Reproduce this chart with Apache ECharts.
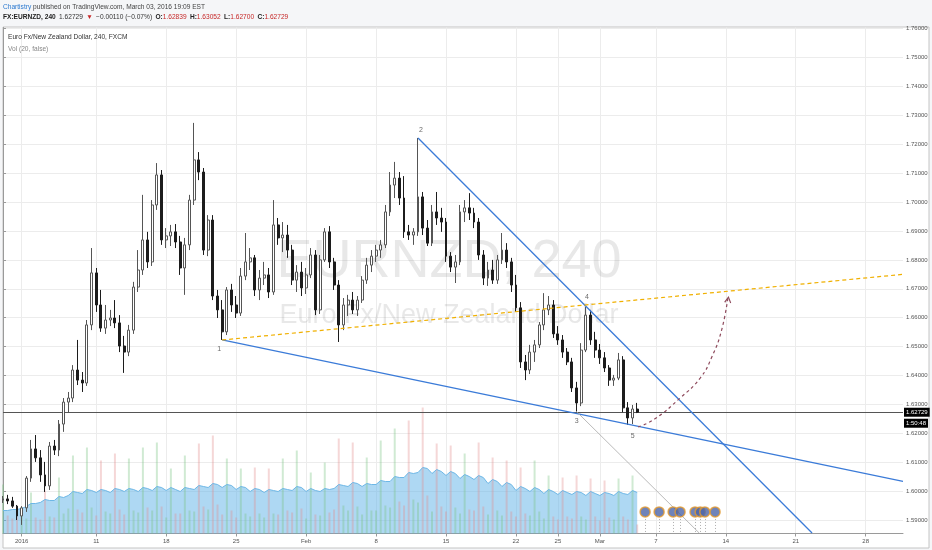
<!DOCTYPE html>
<html><head><meta charset="utf-8">
<script src="https://cdn.jsdelivr.net/npm/echarts@6/dist/echarts.min.js"></script>
<style>html,body{margin:0;padding:0;background:#f5f6f8;}#c{width:932px;height:550px;}</style>
</head><body><div id="c"></div>
<script>
// ---------- DATA ----------
const opens = [1.5969,1.5973,1.5966,1.5948,1.5914,1.5942,1.6045,1.6146,1.6115,1.6056,
1.6018,1.6156,1.6142,1.6232,1.6308,1.6322,1.6419,1.6384,1.6374,1.6575,
1.6755,1.6644,1.6564,1.6592,1.6599,1.6582,1.6502,1.6481,1.6557,1.6706,
1.6765,1.6869,1.6793,1.6990,1.7094,1.6869,1.6883,1.6897,1.6862,1.6772,
1.6852,1.7007,1.7146,1.7104,1.6834,1.6938,1.6675,1.6627,1.6551,1.6696,
1.6644,1.6616,1.6744,1.6793,1.6807,1.6696,1.6737,1.6748,1.6689,1.6921,
1.6876,1.6886,1.6834,1.6730,1.6758,1.6703,1.6748,1.6817,1.6627,1.6800,
1.6897,1.6793,1.6713,1.6575,1.6644,1.6661,1.6627,1.6661,1.6730,1.6782,
1.6813,1.6834,1.6852,1.6966,1.7059,1.7083,1.7014,1.6897,1.6886,1.6897,
1.7018,1.6910,1.6858,1.6966,1.6945,1.6931,1.6813,1.6775,1.6793,1.6966,
1.6980,1.6962,1.6931,1.6817,1.6737,1.6765,1.6730,1.6800,1.6834,1.6793,
1.6713,1.6634,1.6447,1.6419,1.6481,1.6506,1.6575,1.6627,1.6644,1.6544,
1.6523,1.6481,1.6447,1.6357,1.6305,1.6488,1.6609,1.6523,1.6488,1.6461,
1.6426,1.6384,1.6391,1.6454,1.6288,1.6253,1.62839];
const highs = [1.5983,1.5987,1.5980,1.5952,1.5948,1.6052,1.6177,1.6194,1.6142,1.6101,
1.6170,1.6177,1.6246,1.6322,1.6343,1.6436,1.6523,1.6412,1.6592,1.6841,
1.6772,1.6696,1.6644,1.6627,1.6661,1.6609,1.6537,1.6575,1.6724,1.6834,
1.7025,1.6897,1.7007,1.7135,1.7111,1.6910,1.6921,1.6924,1.6883,1.6876,
1.7025,1.7274,1.7173,1.7118,1.6955,1.6955,1.6696,1.6661,1.6706,1.6717,
1.6675,1.6772,1.6893,1.6841,1.6817,1.6765,1.6793,1.6772,1.7007,1.6945,
1.6931,1.6921,1.6852,1.6782,1.6793,1.6772,1.6841,1.6834,1.6817,1.6910,
1.6917,1.6807,1.6730,1.6668,1.6679,1.6689,1.6675,1.6744,1.6807,1.6834,
1.6852,1.6869,1.6990,1.7104,1.7139,1.7104,1.7090,1.6921,1.6910,1.7222,
1.7035,1.6938,1.6990,1.7035,1.6980,1.6945,1.6827,1.6817,1.6990,1.7007,
1.7031,1.6980,1.6945,1.6834,1.6793,1.6800,1.6817,1.6893,1.6858,1.6807,
1.6748,1.6654,1.6471,1.6506,1.6523,1.6585,1.6685,1.6675,1.6661,1.6571,
1.6540,1.6495,1.6461,1.6378,1.6512,1.6637,1.6627,1.6551,1.6509,1.6481,
1.6436,1.6402,1.6478,1.6467,1.6308,1.6298,1.63052];
const lows = [1.5959,1.5955,1.5942,1.5900,1.5883,1.5928,1.6032,1.6101,1.6032,1.5997,
1.6004,1.6125,1.6121,1.6205,1.6273,1.6308,1.6367,1.6343,1.6364,1.6557,
1.6620,1.6551,1.6544,1.6571,1.6564,1.6481,1.6409,1.6467,1.6544,1.6689,
1.6748,1.6772,1.6779,1.6973,1.6852,1.6841,1.6848,1.6841,1.6748,1.6679,
1.6834,1.6990,1.7076,1.6817,1.6813,1.6661,1.6599,1.6523,1.6540,1.6620,
1.6599,1.6606,1.6730,1.6765,1.6675,1.6661,1.6713,1.6668,1.6679,1.6852,
1.6827,1.6807,1.6713,1.6689,1.6675,1.6682,1.6737,1.6609,1.6613,1.6793,
1.6772,1.6696,1.6516,1.6557,1.6606,1.6613,1.6606,1.6651,1.6717,1.6758,
1.6793,1.6807,1.6841,1.6952,1.7014,1.6990,1.6876,1.6869,1.6852,1.6883,
1.6886,1.6848,1.6848,1.6921,1.6897,1.6793,1.6758,1.6720,1.6782,1.6931,
1.6938,1.6910,1.6800,1.6713,1.6710,1.6717,1.6717,1.6786,1.6772,1.6689,
1.6620,1.6426,1.6384,1.6405,1.6447,1.6495,1.6557,1.6609,1.6530,1.6506,
1.6461,1.6436,1.6343,1.6275,1.6294,1.6481,1.6506,1.6461,1.6440,1.6412,
1.6364,1.6364,1.6384,1.6273,1.6229,1.6232,1.62700];
const closes = [1.5973,1.5966,1.5948,1.5914,1.5942,1.6045,1.6146,1.6115,1.6056,1.6018,
1.6156,1.6142,1.6232,1.6308,1.6322,1.6419,1.6384,1.6374,1.6575,1.6755,
1.6644,1.6564,1.6592,1.6599,1.6582,1.6502,1.6481,1.6557,1.6706,1.6765,
1.6869,1.6793,1.6990,1.7094,1.6869,1.6883,1.6897,1.6862,1.6772,1.6852,
1.7007,1.7146,1.7104,1.6834,1.6938,1.6675,1.6627,1.6551,1.6696,1.6644,
1.6616,1.6744,1.6793,1.6807,1.6696,1.6737,1.6748,1.6689,1.6921,1.6876,
1.6886,1.6834,1.6730,1.6758,1.6703,1.6748,1.6817,1.6627,1.6800,1.6897,
1.6793,1.6713,1.6575,1.6644,1.6661,1.6627,1.6661,1.6730,1.6782,1.6813,
1.6834,1.6852,1.6966,1.7059,1.7083,1.7014,1.6897,1.6886,1.6897,1.7018,
1.6910,1.6858,1.6966,1.6945,1.6931,1.6813,1.6775,1.6793,1.6966,1.6980,
1.6962,1.6931,1.6817,1.6737,1.6765,1.6730,1.6800,1.6834,1.6793,1.6713,
1.6634,1.6447,1.6419,1.6481,1.6506,1.6575,1.6627,1.6644,1.6544,1.6523,
1.6481,1.6447,1.6357,1.6305,1.6488,1.6609,1.6523,1.6488,1.6461,1.6426,
1.6384,1.6391,1.6454,1.6288,1.6253,1.6284,1.62729];
const volumes = [4900,1800,1500,1700,2200,
1500,4100,1600, 1400,4300,1700, 1600,5600,2000, 2500,7800,2400, 2100,8600,2600,
1800,7300,2200, 2000,8000,2400, 1900,7500,2300, 2100,8600,2600, 2300,9100,2700,
1600,6500,2000, 2000,7800,2300, 2200,9000,2700, 2400,9800,2900, 1900,7500,2300,
1600,6500,2000, 1700,6600,2000, 1600,6500,2000, 1900,7500,2300, 2100,8300,2500,
1500,6100,1900, 1800,7100,2100, 2400,9500,2800, 2300,9100,2700, 1900,7600,2300,
2300,9300,2800, 2600,10500,3200, 2800,11300,3400, 3100,12600,3800, 2200,9000,2700,
2200,8800,2600, 2000,8000,2400, 2300,9100,2700, 1900,7600,2300, 1800,7300,2200,
1700,6600,2000, 1800,7300,2200, 1500,5800,1700, 1400,5600,1700, 1500,5800,1700,
1400,5500,1700, 1300,5300,1600, 1400,5500,1700, 1400,5800,900];
const volumeMA = [2300,2300,2400,2400,2500,
2700,3000,3000, 3100,3400,3300, 3300,3700,3600, 3800,4200,4100, 4000,4400,4300,
4100,4400,4300, 4100,4500,4400, 4200,4500,4400, 4200,4600,4500, 4300,4700,4600,
4300,4600,4400, 4200,4600,4500, 4400,4800,4700, 4600,5000,4900, 4600,4900,4800,
4400,4700,4600, 4200,4500,4400, 4100,4400,4300, 4200,4500,4400, 4300,4700,4600,
4200,4500,4300, 4200,4500,4400, 4500,4900,4800, 4700,5100,5000, 4700,5000,4900,
4900,5300,5200, 5200,5700,5600, 5600,6100,6000, 6100,6600,6500, 6000,6400,6200,
5800,6200,6000, 5500,5900,5700, 5400,5800,5600, 5000,5400,5200, 4700,5100,4900,
4300,4700,4500, 4200,4600,4400, 4000,4400,4200, 3900,4300,4100, 3900,4200,4100,
3800,4200,4000, 3800,4100,4000, 3800,4200,4000, 3900,4300,4100];

const priceTicks = [1.59,1.60,1.61,1.62,1.63,1.64,1.65,1.66,1.67,1.68,1.69,1.70,1.71,1.72,1.73,1.74,1.75,1.76];
const leadSlots = ['2015-12-30 16:00','2015-12-31 00:00','2015-12-31 08:00','2015-12-31 16:00','2016-01-03 16:00'];
const slotHours = ['00:00','08:00','16:00'];
const tickSlots = ['2016-01-03 16:00','2016-01-11 00:00','2016-01-18 00:00','2016-01-25 00:00','2016-02-01 00:00','2016-02-08 00:00','2016-02-15 00:00','2016-02-22 00:00','2016-02-25 00:00','2016-03-01 00:00','2016-03-07 00:00','2016-03-14 00:00','2016-03-21 00:00','2016-03-28 00:00'];
const tickTexts = ['2016','11','18','25','Feb','8','15','22','25','Mar','7','14','21','28'];

const lastPrice = 1.62729;
const countdown = '1:50:48';
// drawings, in [bar index, price]
const lowerTrend = [[47,1.6523],[193,1.6034]];
const upperTrend = [[89,1.7222],[173.5,1.5855]];
const yellowTrend = [[47,1.6523],[193,1.6750]];
const greyTrend = [[123,1.6275],[149.3,1.5855]];
const projection = [[136.2,1.6222],[139.8,1.6250],[145.2,1.6322],[149.5,1.6391],[152.0,1.6464],[154.1,1.6557],[155.5,1.6675]];
const waveLabels = ['1','2','3','4','5'];
const wavePoints = [[47,1.6523],[89,1.7222],[123,1.6275],[125.2,1.6646],[135.7,1.6225]];
const eventSlots = [137.7,140.7,143.7,145.2,148.4,149.5,150.5,152.7];
const eventLevel = 1.5928;

// ---------- BUILD ----------
const cats = leadSlots.slice();
(function(){
  let d = new Date(Date.UTC(2016,0,4));
  const end = new Date(Date.UTC(2016,2,30));
  while (d <= end) {
    const wd = d.getUTCDay();
    if (wd !== 0 && wd !== 6) {
      const s = d.toISOString().slice(0,10);
      slotHours.forEach(h => cats.push(s + ' ' + h));
    }
    d = new Date(d.getTime() + 86400000);
  }
})();
const tickMap = {};
tickSlots.forEach((s,i)=>{ tickMap[s] = tickTexts[i]; });
const isTick = (idx, val) => tickMap[val] !== undefined;

const candleData = opens.map((o,i)=>[o, closes[i], lows[i], highs[i]]);
const volData = volumes.map((v,i)=>({value:v, itemStyle:{color: closes[i] >= opens[i] ? 'rgba(120,195,130,0.35)' : 'rgba(225,140,140,0.35)'}}));

const FONT = 'Liberation Sans, Arial, sans-serif';
const chart = echarts.init(document.getElementById('c'), null, {renderer:'canvas'});
const lastIdx = cats.length - 1;

const option = {
  animation: false,
  backgroundColor: '#f5f6f8',
  textStyle: {fontFamily: FONT},
  graphic: [
    {type:'rect', z:-10, shape:{x:3, y:27, width:926, height:521}, style:{fill:'#ffffff', stroke:'#c4c4c4', lineWidth:1}},
    {type:'text', z:1, x:449, y:262, style:{text:'EURNZD, 240', fill:'rgba(140,140,140,0.2)', font:'54px ' + FONT, textAlign:'center', textVerticalAlign:'middle'}},
    {type:'text', z:1, x:449, y:316, style:{text:'Euro Fx/New Zealand Dollar', fill:'rgba(140,140,140,0.2)', font:'27px ' + FONT, textAlign:'center', textVerticalAlign:'middle'}},
    {type:'text', z:50, x:3, y:7, style:{text:'{a|Chartistry}{b| published on TradingView.com, March 03, 2016 19:09 EST}', textVerticalAlign:'middle',
      rich:{a:{fill:'#2d7ad0', fontSize:6.6, fontFamily:FONT}, b:{fill:'#444', fontSize:6.6, fontFamily:FONT}}}},
    {type:'text', z:50, x:3, y:17, style:{text:'{b|FX:EURNZD, 240} {n|1.62729} {r|▼} {n|−0.00110 (−0.07%)} {b|O:}{r|1.62839} {b|H:}{r|1.63052} {b|L:}{r|1.62700} {b|C:}{r|1.62729}', textVerticalAlign:'middle',
      rich:{b:{fill:'#222', fontSize:6.6, fontWeight:'bold', fontFamily:FONT}, n:{fill:'#333', fontSize:6.6, fontFamily:FONT}, r:{fill:'#c62828', fontSize:6.6, fontFamily:FONT}}}},
    {type:'text', z:50, x:8, y:37, style:{text:'Euro Fx/New Zealand Dollar, 240, FXCM', fill:'#333', fontSize:6.6, fontFamily:FONT, textVerticalAlign:'middle'}},
    {type:'text', z:50, x:8, y:49, style:{text:'Vol (20, false)', fill:'#888', fontSize:6.6, fontFamily:FONT, textVerticalAlign:'middle'}}
  ],
  grid: [
    {left:3, right:29, top:27.5, bottom:16.5},
    {left:3, right:29, top:283.5, bottom:16.5}
  ],
  xAxis: [
    {type:'category', gridIndex:0, data:cats, boundaryGap:false,
      axisLine:{show:true, lineStyle:{color:'#9a9a9a'}},
      axisTick:{show:true, interval:isTick, length:3, lineStyle:{color:'#9a9a9a'}},
      axisLabel:{interval:isTick, formatter:v=>tickMap[v]||'', fontSize:6, color:'#555', margin:5, fontFamily:FONT},
      splitLine:{show:true, interval:isTick, lineStyle:{color:'#ececec', width:1}}},
    {type:'value', gridIndex:0, min:0, max:lastIdx, show:false},
    {type:'category', gridIndex:1, data:cats, boundaryGap:false, show:false}
  ],
  yAxis: [
    {type:'value', gridIndex:0, position:'right', min:1.58533, max:1.76041, scale:true,
      axisLine:{show:true, lineStyle:{color:'#9a9a9a'}},
      axisTick:{show:true, customValues:priceTicks, length:3, lineStyle:{color:'#9a9a9a'}},
      axisLabel:{customValues:priceTicks, formatter:v=>v.toFixed(5), fontSize:6, color:'#555', margin:3, fontFamily:FONT},
      splitLine:{show:true, lineStyle:{color:'#ececec', width:1}}},
    {type:'value', gridIndex:1, min:0, max:25000, show:false}
  ],
  series: [
    {type:'bar', name:'vol', xAxisIndex:2, yAxisIndex:1, data:volData, barWidth:2, z:1, silent:true},
    {type:'line', name:'volMA', xAxisIndex:2, yAxisIndex:1, data:volumeMA, symbol:'none', z:1, silent:true,
      lineStyle:{color:'#6db7e6', width:1}, areaStyle:{color:'rgba(95,178,232,0.72)'}},
    {type:'candlestick', name:'EURNZD', xAxisIndex:0, yAxisIndex:0, data:candleData, barWidth:2.4, z:5, silent:true,
      itemStyle:{color:'#ffffff', color0:'#1c1c1c', borderColor:'#555555', borderColor0:'#1c1c1c', borderWidth:1},
      markLine:{symbol:'none', silent:true, animation:false, precision:5,
        lineStyle:{color:'#555', width:1, type:'solid'},
        label:{show:true, position:'end', distance:1, offset:[0,5.5], formatter:()=>'{p|'+lastPrice.toFixed(5)+'}\n{t|'+countdown+'}',
          rich:{p:{backgroundColor:'#000', color:'#fff', fontSize:6, padding:[2,2,1,2], lineHeight:11, fontFamily:FONT},
                t:{backgroundColor:'#000', color:'#fff', fontSize:6, padding:[2,2,1,2], lineHeight:11, fontFamily:FONT}}},
        data:[{yAxis:lastPrice}]}},
    {type:'line', name:'lower', xAxisIndex:1, yAxisIndex:0, data:lowerTrend, symbol:'none', z:6, silent:true, lineStyle:{color:'#3b7bd8', width:1.3}},
    {type:'line', name:'upper', xAxisIndex:1, yAxisIndex:0, data:upperTrend, symbol:'none', z:6, silent:true, lineStyle:{color:'#3b7bd8', width:1.3}},
    {type:'line', name:'yellow', xAxisIndex:1, yAxisIndex:0, data:yellowTrend, symbol:'none', z:6, silent:true, lineStyle:{color:'#f0b000', width:1.2, type:[4,3]}},
    {type:'line', name:'grey', xAxisIndex:1, yAxisIndex:0, data:greyTrend, symbol:'none', z:6, silent:true, lineStyle:{color:'#a8a8a8', width:0.8}},
    {type:'line', name:'projection', xAxisIndex:1, yAxisIndex:0, smooth:0.5, silent:true, z:6,
      data: projection.map((p,i)=> i===projection.length-1 ? {value:p, symbol:'path://M0,8 L5,0 L10,8 L8.6,8.8 L5,2.8 L1.4,8.8 Z', symbolSize:[7,7], symbolRotate:-8, symbolOffset:[0,3.5]} : {value:p, symbol:'none'}),
      showSymbol:true, symbol:'none', itemStyle:{color:'#8e4a5c'},
      lineStyle:{color:'#8e4a5c', width:1.2, type:[3,3]}},
    {type:'scatter', name:'waves', xAxisIndex:1, yAxisIndex:0, z:7, silent:true, symbolSize:0,
      data: wavePoints.map((p,i)=>({value:p, name:waveLabels[i],
        label:{show:true, formatter:waveLabels[i], color:'#444', fontSize:7, fontFamily:FONT,
          position: (i===1||i===3)?'top':'bottom', distance:(i===1||i===3)?4:6, offset: i===0?[-3,0]:(i===4?[-3,0]:(i===1?[3,0]:[0,0]))}}))},
    {type:'scatter', name:'events', xAxisIndex:1, yAxisIndex:0, z:8, silent:true, symbol:'circle', symbolSize:10,
      data: eventSlots.map(x=>[x, eventLevel]),
      itemStyle:{color:'#4b64a8', borderColor:'#e39a2e', borderWidth:1.5},
      markLine:{symbol:'none', silent:true, label:{show:false}, lineStyle:{color:'#9a9a9a', width:0.8, type:[1,2]},
        data: eventSlots.map(x=>[{coord:[x, eventLevel-0.0014]},{coord:[x, 1.58533]}])}}
  ]
};
chart.setOption(option);
</script></body></html>
